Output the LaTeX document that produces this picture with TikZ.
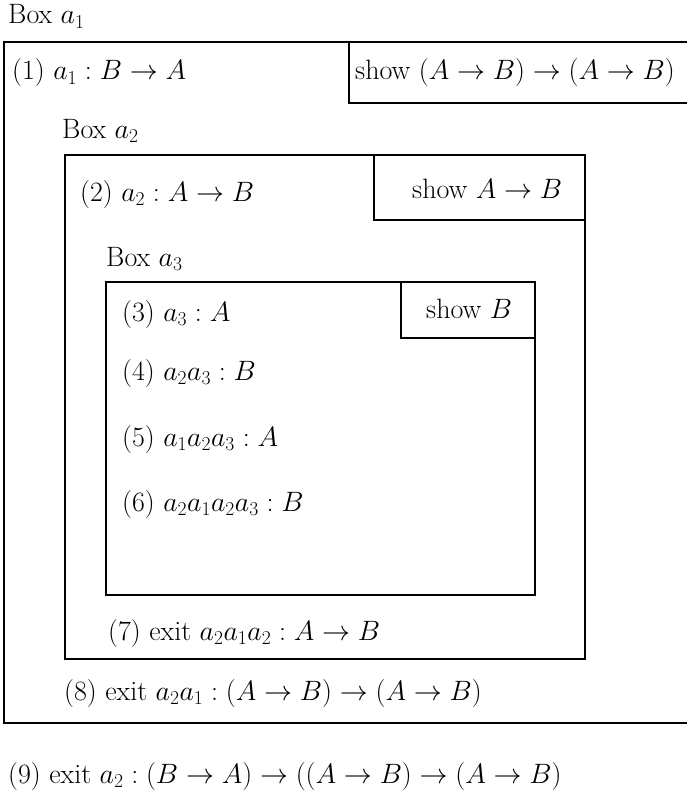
\RequirePackage{fix-cm}
\documentclass[tikz,border=0pt]{standalone}
\begin{document}
\begin{tikzpicture}[x=1pt,y=-1pt,
  txt/.style={anchor=base west,inner sep=0pt,font=\fontsize{28}{33}\selectfont},
  boxline/.style={draw=black,line width=1.6pt}]
\useasboundingbox (0,0) rectangle (687,792);
% boxes (right sides of the outermost boxes lie beyond the page edge)
\draw[boxline] (4,42) rectangle (690,723);
\draw[boxline] (349,42) rectangle (690,103);
\draw[boxline] (65,155) rectangle (585,659);
\draw[boxline] (374,155) rectangle (585,220);
\draw[boxline] (106,282) rectangle (535,595);
\draw[boxline] (401,282) rectangle (535,338);
% texts
\node[txt] (b1) at (8,24) {Box $a_1$};
\node[txt] (l1) at (12,80) {(1) $a_1 : B \rightarrow A$};
\node[txt] (s1) at (355,80) {show $(A \rightarrow B) \rightarrow (A \rightarrow B)$};
\node[txt] (b2) at (62,138) {Box $a_2$};
\node[txt] (l2) at (80,201) {(2) $a_2 : A \rightarrow B$};
\node[txt] (s2) at (412,198) {show $A \rightarrow B$};
\node[txt] (b3) at (106,266) {Box $a_3$};
\node[txt] (l3) at (122,321) {(3) $a_3 : A$};
\node[txt] (s3) at (426,318) {show $B$};
\node[txt] (l4) at (122,380) {(4) $a_2a_3 : B$};
\node[txt] (l5) at (122,446) {(5) $a_1a_2a_3 : A$};
\node[txt] (l6) at (122,511) {(6) $a_2a_1a_2a_3 : B$};
\node[txt] (l7) at (108,640) {(7) exit $a_2a_1a_2 : A \rightarrow B$};
\node[txt] (l8) at (64,700) {(8) exit $a_2a_1 : (A \rightarrow B) \rightarrow (A \rightarrow B)$};
\node[txt] (l9) at (8,783) {(9) exit $a_2 : (B \rightarrow A) \rightarrow ((A \rightarrow B) \rightarrow (A \rightarrow B)$};
\end{tikzpicture}
\end{document}
